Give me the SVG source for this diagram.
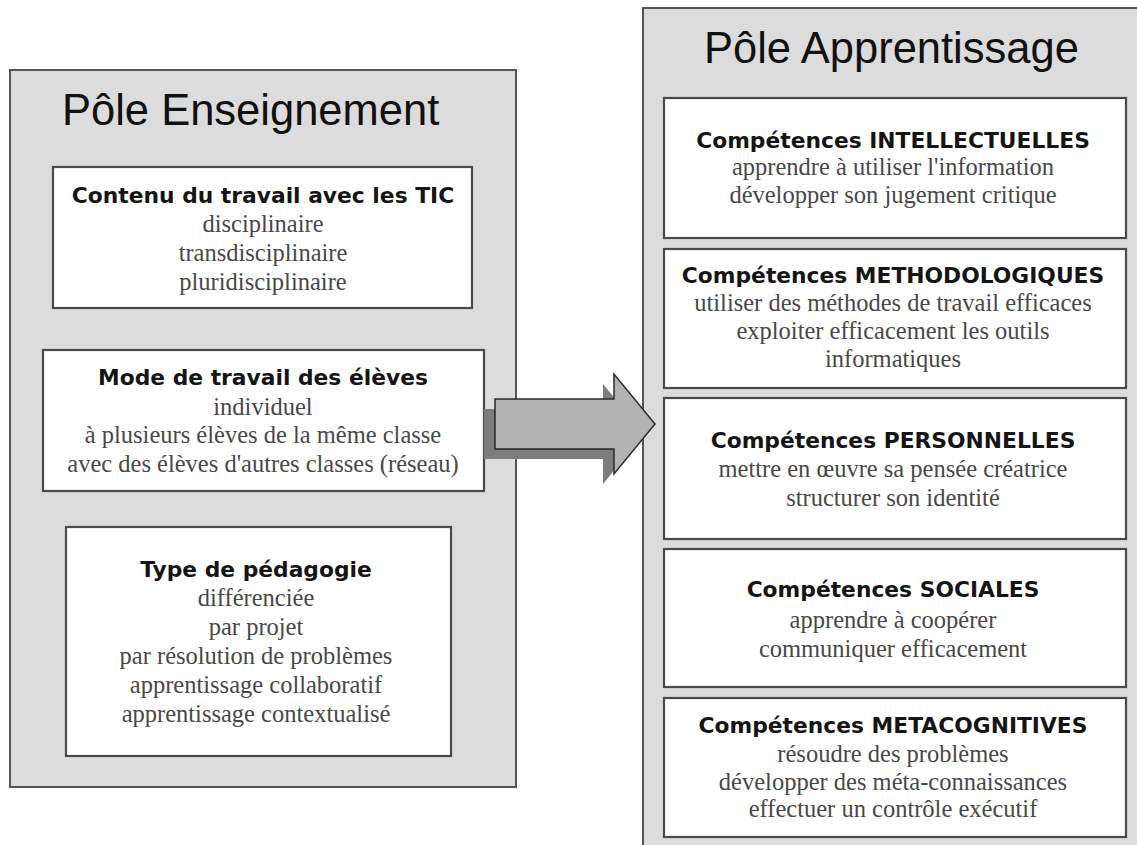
<svg xmlns="http://www.w3.org/2000/svg" width="1137" height="845" viewBox="0 0 1137 845">
<style>
.panel{fill:#dcdcdc;stroke:#555;stroke-width:2}
.box{fill:#fff;stroke:#4a4a4a;stroke-width:2.2}
.ptitle{font-family:"Liberation Sans",Arial,sans-serif;font-size:43.5px;fill:#111}
.bt{font-family:"DejaVu Sans",Verdana,sans-serif;font-weight:bold;font-size:21.8px;fill:#151515;text-anchor:middle}
.st{font-family:"Liberation Serif","Times New Roman",serif;font-size:24.5px;fill:#484848;text-anchor:middle}
.arrow{fill:#b2b2b2;stroke:#2a2a2a;stroke-width:1.5;stroke-linejoin:miter}
.shadow{fill:#7d7d7d}
</style>
<rect width="1137" height="845" fill="#fff"/>
<g id="pole-enseignement">
<rect class="panel" x="10" y="70" width="506" height="717"/>
<text class="ptitle" x="62" y="125">Pôle Enseignement</text>
</g>
<g id="contenu">
<rect class="box" x="53" y="167" width="419" height="141"/>
<text class="bt" x="263" y="203">Contenu du travail avec les TIC</text>
<text class="st" x="263" y="232">disciplinaire</text>
<text class="st" x="263" y="261">transdisciplinaire</text>
<text class="st" x="263" y="290">pluridisciplinaire</text>
</g>
<g id="mode">
<rect class="box" x="43" y="350" width="441" height="141"/>
<text class="bt" x="263" y="385">Mode de travail des élèves</text>
<text class="st" x="263" y="415">individuel</text>
<text class="st" x="263" y="443">à plusieurs élèves de la même classe</text>
<text class="st" x="263" y="472">avec des élèves d'autres classes (réseau)</text>
</g>
<g id="type">
<rect class="box" x="66" y="527" width="385" height="229"/>
<text class="bt" x="256" y="577">Type de pédagogie</text>
<text class="st" x="256" y="606">différenciée</text>
<text class="st" x="256" y="635">par projet</text>
<text class="st" x="256" y="664">par résolution de problèmes</text>
<text class="st" x="256" y="693">apprentissage collaboratif</text>
<text class="st" x="256" y="722">apprentissage contextualisé</text>
</g>
<g id="pole-apprentissage">
<rect class="panel" x="643" y="8" width="510" height="860"/>
<text class="ptitle" x="704" y="63">Pôle Apprentissage</text>
</g>
<g id="intellectuelles">
<rect class="box" x="664" y="98" width="462" height="140"/>
<text class="bt" x="893" y="148">Compétences INTELLECTUELLES</text>
<text class="st" x="893" y="175">apprendre à utiliser l'information</text>
<text class="st" x="893" y="203">développer son jugement critique</text>
</g>
<g id="methodologiques">
<rect class="box" x="664" y="249" width="462" height="139"/>
<text class="bt" x="893" y="283">Compétences METHODOLOGIQUES</text>
<text class="st" x="893" y="311">utiliser des méthodes de travail efficaces</text>
<text class="st" x="893" y="339">exploiter efficacement les outils</text>
<text class="st" x="893" y="367">informatiques</text>
</g>
<g id="personnelles">
<rect class="box" x="664" y="398" width="462" height="141"/>
<text class="bt" x="893" y="448">Compétences PERSONNELLES</text>
<text class="st" x="893" y="477">mettre en œuvre sa pensée créatrice</text>
<text class="st" x="893" y="506">structurer son identité</text>
</g>
<g id="sociales">
<rect class="box" x="664" y="549" width="462" height="138"/>
<text class="bt" x="893" y="597">Compétences SOCIALES</text>
<text class="st" x="893" y="628">apprendre à coopérer</text>
<text class="st" x="893" y="657">communiquer efficacement</text>
</g>
<g id="metacognitives">
<rect class="box" x="664" y="698" width="462" height="139"/>
<text class="bt" x="893" y="733">Compétences METACOGNITIVES</text>
<text class="st" x="893" y="762">résoudre des problèmes</text>
<text class="st" x="893" y="790">développer des méta-connaissances</text>
<text class="st" x="893" y="817">effectuer un contrôle exécutif</text>
</g>
<g id="connectors">
<polygon class="shadow" points="484,409 603,409 603,384 644,434 603,484 603,459 484,459"/>
<polygon class="arrow" points="495,399 614,399 614,374 655,424 614,474 614,449 495,449"/>
</g>
</svg>
